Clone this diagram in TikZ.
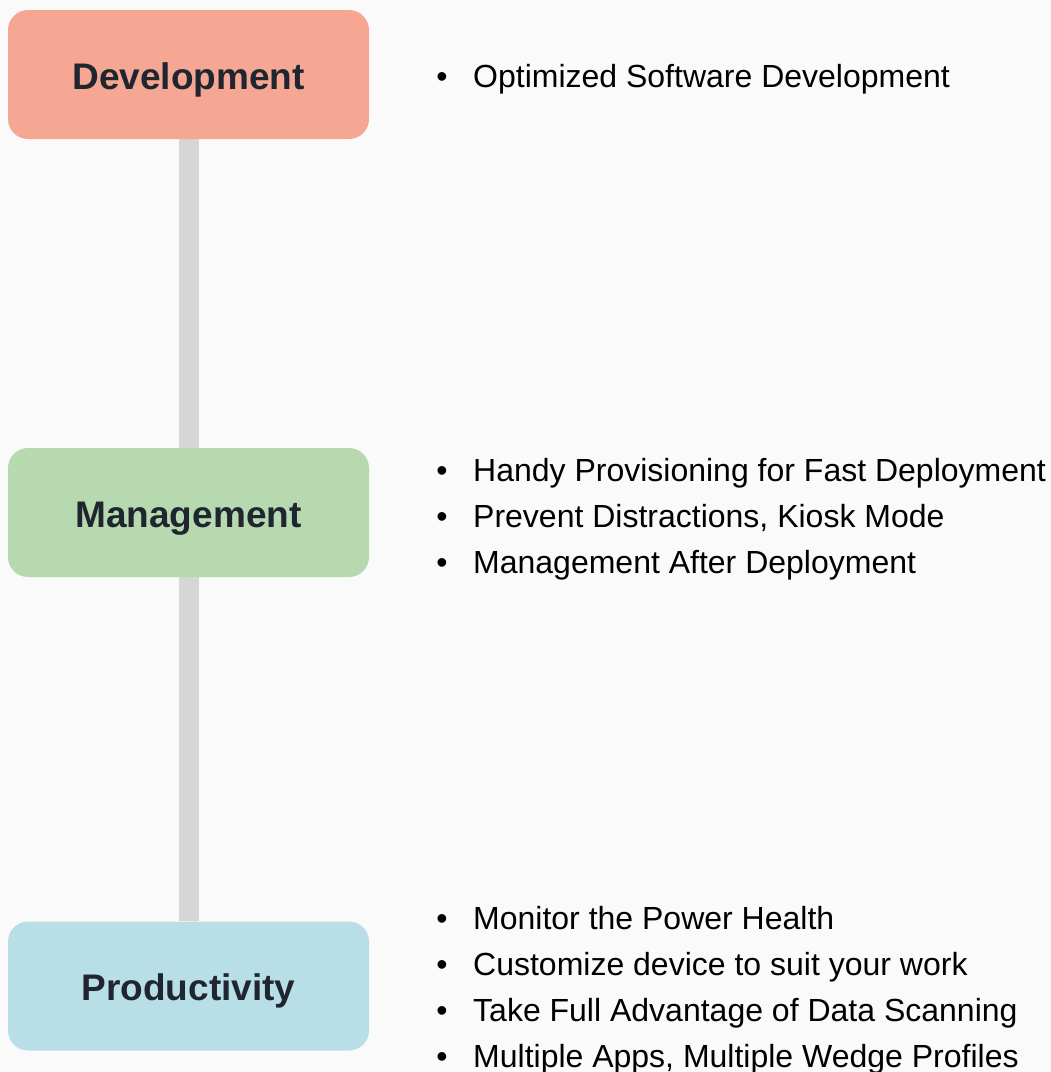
\documentclass[tikz,border=0pt]{standalone}
\usepackage{fontspec}
\setmainfont{Liberation Sans}
\definecolor{bgc}{HTML}{FAFAFA}
\definecolor{devc}{HTML}{F5A793}
\definecolor{mgmc}{HTML}{B7D9B0}
\definecolor{proc}{HTML}{B8DFE7}
\definecolor{linkc}{HTML}{D6D6D6}
\definecolor{boxtext}{HTML}{1F2630}
\pgfdeclarelayer{bg}
\pgfdeclarelayer{links}
\pgfsetlayers{bg,links,main}
\begin{document}
\begin{tikzpicture}[x=1pt,y=-1pt,
  stage/.style={rectangle, rounded corners=20pt, minimum width=361pt, minimum height=129pt, inner sep=0pt,
    text height=29.6pt, text depth=0pt,
    text=boxtext, font=\fontsize{37}{44}\selectfont\bfseries},
  link/.style={draw=linkc, line width=20pt},
  bul/.style={anchor=base, inner sep=0pt, font=\fontsize{32}{38}\selectfont, text=black},
  item/.style={anchor=base west, inner sep=0pt, font=\fontsize{32}{38}\selectfont, text=black}]
\begin{pgfonlayer}{bg}
\fill[bgc] (0,0) rectangle (1051,1072);
\end{pgfonlayer}
\useasboundingbox (0,0) rectangle (1051,1072);
\node[stage, fill=devc] (dev) at (188.5,74.5) {Development};
\node[stage, fill=mgmc] (mgm) at (188.5,512.5) {Management};
\node[stage, fill=proc] (pro) at (188.5,986) {Productivity};
\begin{pgfonlayer}{links}
\draw[link] (dev.south) -- (mgm.north);
\draw[link] (mgm.south) -- (pro.north);
\end{pgfonlayer}
% Development items
\node[bul] (b1) at (442,87) {•};
\node[item] (t1) at (473,87) {Optimized Software Development};
% Management items
\node[bul] (b2) at (442,481) {•};
\node[item] (t2) at (473,481) {Handy Provisioning for Fast Deployment};
\node[bul] (b3) at (442,527) {•};
\node[item] (t3) at (473,527) {Prevent Distractions, Kiosk Mode};
\node[bul] (b4) at (442,573) {•};
\node[item] (t4) at (473,573) {Management After Deployment};
% Productivity items
\node[bul] (b5) at (442,929) {•};
\node[item] (t5) at (473,929) {Monitor the Power Health};
\node[bul] (b6) at (442,975) {•};
\node[item] (t6) at (473,975) {Customize device to suit your work};
\node[bul] (b7) at (442,1021) {•};
\node[item] (t7) at (473,1021) {Take Full Advantage of Data Scanning};
\node[bul] (b8) at (442,1067) {•};
\node[item] (t8) at (473,1067) {Multiple Apps, Multiple Wedge Profiles};
\end{tikzpicture}
\end{document}
